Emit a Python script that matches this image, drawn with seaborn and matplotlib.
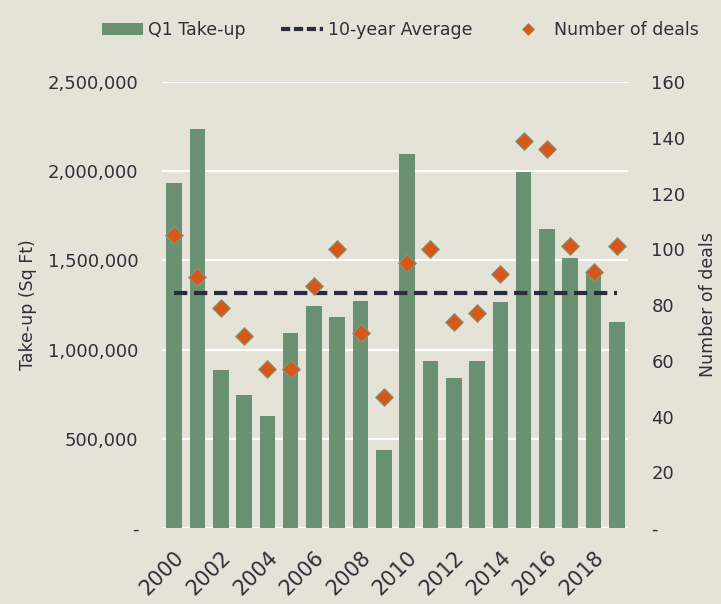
import matplotlib
matplotlib.use("Agg")
import matplotlib.pyplot as plt
import seaborn as sns
import pandas as pd
from matplotlib.ticker import FuncFormatter, MultipleLocator
from matplotlib.patches import Patch
from matplotlib.lines import Line2D

# -----------------------------
# Data
# -----------------------------
years = [str(y) for y in range(2000, 2020)]
take_up = [1934000, 2236000, 886000, 745000, 628000, 1095000, 1247000, 1183000,
           1272000, 437000, 2096000, 936000, 843000, 936000, 1267000, 1996000,
           1676000, 1513000, 1441000, 1155000]
deals = [105, 90, 79, 69, 57, 57, 87, 100, 70, 47, 95, 100, 74, 77, 91, 139,
         136, 101, 92, 101]
ten_year_avg = 1317000

df = pd.DataFrame({"Year": years, "TakeUp": take_up, "Deals": deals})

# colours
bg = "#E5E2D7"
bar_col = "#6A9172"
deal_col = "#D65716"
line_col = "#2A2E3A"
text_col = "#2F3038"

sns.set_theme(style="white")
plt.rcParams["font.family"] = ["DejaVu Sans"]
plt.rcParams["text.color"] = text_col
plt.rcParams["axes.labelcolor"] = text_col
plt.rcParams["xtick.color"] = text_col
plt.rcParams["ytick.color"] = text_col

fig = plt.figure(figsize=(7.21, 6.04), dpi=100, facecolor=bg)
ax = fig.add_axes([0.2247, 0.1258, 0.646, 0.7384])
ax.set_facecolor(bg)

# -----------------------------
# Bars: Q1 take-up
# -----------------------------
sns.barplot(data=df, x="Year", y="TakeUp", order=years, color=bar_col,
            saturation=1, width=0.67, linewidth=0, edgecolor="none", ax=ax, zorder=2)

# 10-year average (dashed)
ax.hlines(ten_year_avg, 0, len(years) - 1, colors=line_col, linestyles=(0, (3.2, 1.6)),
          linewidth=3, zorder=3)

ax.set_ylim(0, 2500000)
ax.yaxis.set_major_locator(MultipleLocator(500000))
ax.yaxis.set_major_formatter(FuncFormatter(lambda v, p: "-" if v == 0 else f"{v:,.0f}"))
ax.grid(axis="y", color="white", linewidth=1.6, zorder=0)
ax.set_axisbelow(True)
ax.set_ylabel("Take-up (Sq Ft)", fontsize=12.5, labelpad=8)
ax.set_xlabel("")
for s in ax.spines.values():
    s.set_visible(False)

# -----------------------------
# Diamonds: number of deals (right axis)
# -----------------------------
ax2 = ax.twinx()
sns.stripplot(data=df, x="Year", y="Deals", order=years, jitter=False,
              marker="D", s=9, color=deal_col, edgecolor="#7E9A82",
              linewidth=0.8, ax=ax2, zorder=4)
ax2.set_ylim(0, 160)
ax2.yaxis.set_major_locator(MultipleLocator(20))
ax2.yaxis.set_major_formatter(FuncFormatter(lambda v, p: "-" if v == 0 else f"{v:.0f}"))
ax2.set_ylabel("Number of deals", fontsize=12.5, labelpad=10)
ax2.grid(False)
for s in ax2.spines.values():
    s.set_visible(False)

# x ticks every two years
ax.set_xlim(-0.52, len(years) - 0.53)
ax.set_xticks(range(0, len(years), 2))
ax.set_xticklabels(years[::2], rotation=45, ha="right", rotation_mode="anchor",
                   fontsize=15)
ax.tick_params(axis="x", length=0, pad=14)
ax.tick_params(axis="y", length=0, pad=17, labelsize=13)
ax2.tick_params(axis="y", length=0, pad=17, labelsize=13)

# -----------------------------
# Legend
# -----------------------------
handles = [
    Patch(facecolor=bar_col, edgecolor="none"),
    Line2D([0], [0], color=line_col, linewidth=3, linestyle=(0, (2.2, 0.9))),
    Line2D([0], [0], color=deal_col, marker="D", linestyle="none", markersize=6,
           markeredgecolor="#7E9A82", markeredgewidth=0.6),
]
labels = ["Q1 Take-up", "10-year Average", "Number of deals"]
fig.legend(handles, labels, loc="center", bbox_to_anchor=(0.555, 0.95), ncol=3,
           frameon=False, fontsize=12.5, handlelength=2.4, handletextpad=0.3,
           columnspacing=2.0)

fig.savefig("out.png", dpi=100, facecolor=bg)
